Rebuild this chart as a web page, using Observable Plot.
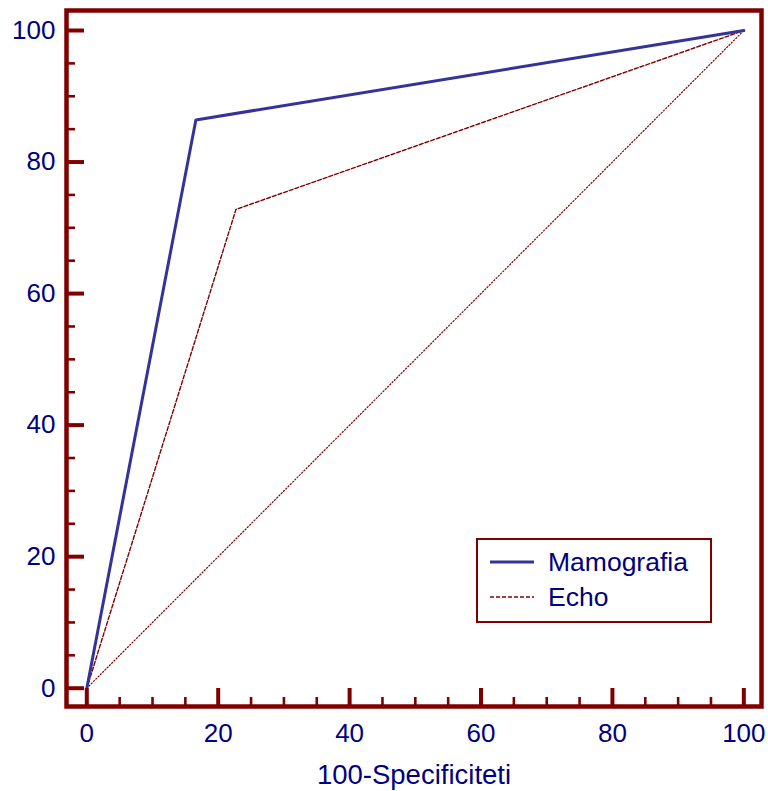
<!DOCTYPE html>
<html><head><meta charset="utf-8">
<script src="https://cdn.jsdelivr.net/npm/d3@7"></script>
<script src="https://cdn.jsdelivr.net/npm/@observablehq/plot@0.6"></script>
<style>
body{margin:0;background:#fff;}
#wrap{position:relative;width:768px;height:791px;}
#legend{position:absolute;left:476px;top:538px;width:232px;height:81px;border:2px solid #800000;background:#fff;font-family:"Liberation Sans",Arial,sans-serif;font-size:26.5px;color:#000080;}
#legend .row{position:absolute;left:12px;height:30px;display:flex;align-items:center;}
#legend svg{margin-right:14px;}
</style></head><body><div id="wrap"></div>
<script>
const seriesNames = ["Mamografia", "Echo"];
const mamoX = [0, 16.6, 100];
const mamoY = [0, 86.4, 100];
const echoX = [0, 22.7, 100];
const echoY = [0, 72.8, 100];
const refX = [0, 100];
const refY = [0, 100];
const majorTicks = [0, 20, 40, 60, 80, 100];
const minorTicks = [5, 10, 15, 25, 30, 35, 45, 50, 55, 65, 70, 75, 85, 90, 95];
const xLabel = "100-Specificiteti";

const dark = "#800000", navy = "#000080", blue = "#333399";
const mamo = mamoX.map((x, i) => ({x, y: mamoY[i]}));
const echo = echoX.map((x, i) => ({x, y: echoY[i]}));
const ref = refX.map((x, i) => ({x, y: refY[i]}));

const chart = Plot.plot({
  width: 768, height: 791,
  marginLeft: 66, marginRight: 7, marginTop: 10, marginBottom: 85,
  style: {fontFamily: '"Liberation Sans", Arial, sans-serif', background: "#fff"},
  x: {domain: [-3.09, 102.69], axis: null},
  y: {domain: [-2.78, 103.04], axis: null},
  marks: [
    Plot.line(ref, {x: "x", y: "y", stroke: dark, strokeWidth: 1.2, strokeDasharray: "1.2,2"}),
    Plot.line(echo, {x: "x", y: "y", stroke: dark, strokeWidth: 1.4, strokeDasharray: "4,2"}),
    Plot.line(mamo, {x: "x", y: "y", stroke: blue, strokeWidth: 3}),
    Plot.axisY(majorTicks, {anchor: "left", tickSize: -18, stroke: dark, strokeWidth: 4, tickFormat: () => "", label: null}),
    Plot.axisY(minorTicks, {anchor: "left", tickSize: -9, stroke: dark, strokeWidth: 2.6, tickFormat: () => "", label: null}),
    Plot.axisX(majorTicks, {anchor: "bottom", tickSize: -18, stroke: dark, strokeWidth: 4, tickFormat: () => "", label: null}),
    Plot.axisX(minorTicks, {anchor: "bottom", tickSize: -9, stroke: dark, strokeWidth: 2.6, tickFormat: () => "", label: null}),
    Plot.axisY(majorTicks, {anchor: "left", tickSize: 0, tickPadding: 11, fill: navy, fontSize: 26, label: null}),
    Plot.axisX(majorTicks, {anchor: "bottom", tickSize: 0, tickPadding: 17, fill: navy, fontSize: 26, label: null}),
    Plot.axisX([], {anchor: "bottom", tickSize: 0, fill: navy, fontSize: 27.5, label: xLabel, labelAnchor: "center", labelArrow: "none", labelOffset: 77}),
    Plot.frame({stroke: dark, strokeWidth: 4.5})
  ]
});
const wrap = document.getElementById("wrap");
wrap.appendChild(chart);

const legend = document.createElement("div");
legend.id = "legend";
const styles = [
  {stroke: blue, width: 3, dash: ""},
  {stroke: dark, width: 1.4, dash: "4,2"}
];
seriesNames.forEach((name, i) => {
  const row = document.createElement("div");
  row.className = "row";
  row.style.top = (7 + i * 35) + "px";
  const s = styles[i];
  row.innerHTML = `<svg width="44" height="10"><line x1="0" x2="44" y1="5" y2="5" stroke="${s.stroke}" stroke-width="${s.width}" stroke-dasharray="${s.dash}"/></svg><span>${name}</span>`;
  legend.appendChild(row);
});
wrap.appendChild(legend);
</script></body></html>
